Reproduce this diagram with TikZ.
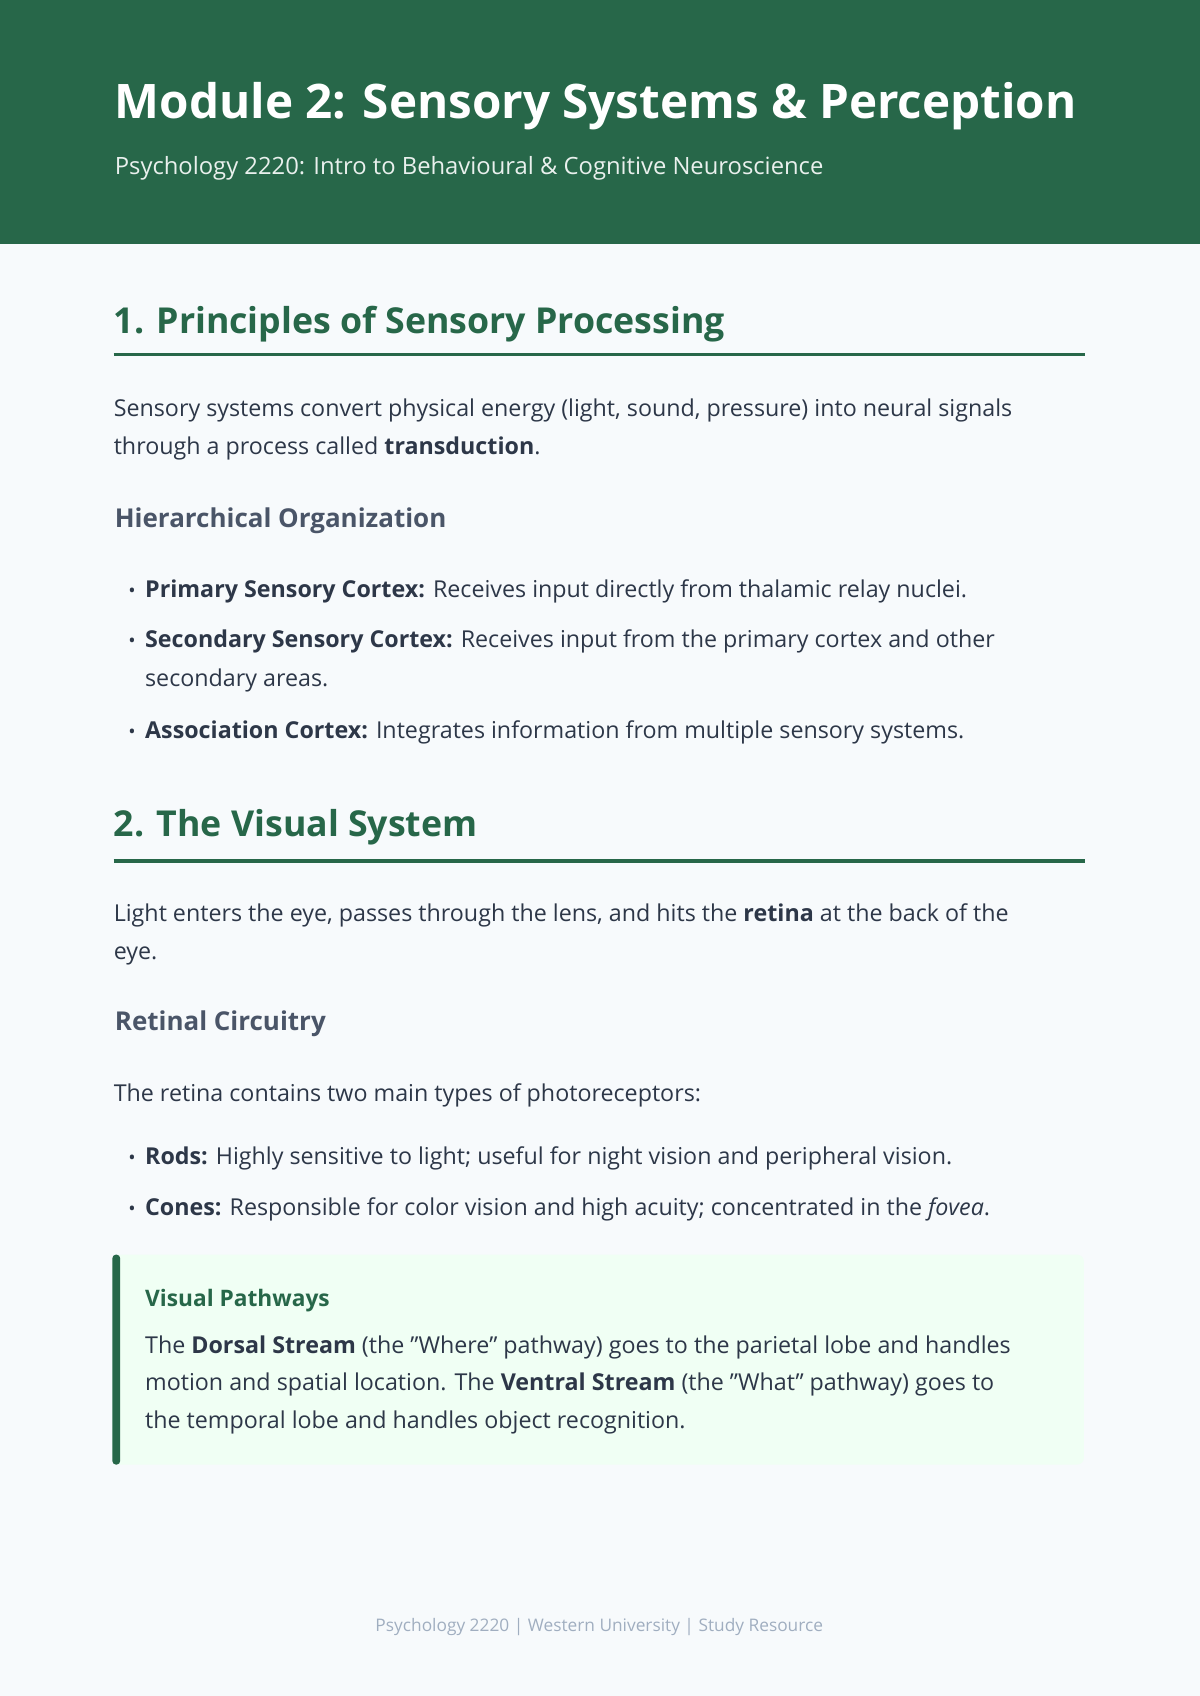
\documentclass[tikz,border=0pt]{standalone}
\usepackage{fontspec}
\setmainfont{Open Sans}
\definecolor{hdr}{HTML}{276749}
\definecolor{bg}{HTML}{F7FAFC}
\definecolor{txt}{HTML}{2D3748}
\definecolor{sub}{HTML}{4A5568}
\definecolor{foot}{HTML}{A0AEC0}
\definecolor{boxbg}{HTML}{F0FFF4}
\tikzset{
 body/.style={anchor=base west,inner sep=0pt,text=txt,font=\fontsize{21.5}{25}\selectfont},
 sech/.style={anchor=base west,inner sep=0pt,text=hdr,font=\fontsize{33}{40}\selectfont\bfseries},
 subh/.style={anchor=base west,inner sep=0pt,text=sub,font=\fontsize{24}{30}\selectfont\bfseries},
 bul/.style={anchor=base,inner sep=0pt,text=txt,font=\fontsize{18}{22}\selectfont},
 rulel/.style={draw=hdr,line width=3pt}
}
\begin{document}
\begin{tikzpicture}[x=1pt,y=-1pt]
\useasboundingbox (0,0) rectangle (1109,1568);
\fill[bg] (0,0) rectangle (1109,1568);
\fill[hdr] (0,0) rectangle (1109,226);
\node[anchor=base west,inner sep=0pt,text=white,font=\fontsize{44}{52}\selectfont\bfseries] (title) at (106,110) {Module 2: Sensory Systems \& Perception};
\node[anchor=base west,inner sep=0pt,text=white!90!hdr,font=\fontsize{22}{26}\selectfont] (subt) at (106,161) {Psychology 2220: Intro to Behavioural \& Cognitive Neuroscience};
% section 1
\node[sech] (s1) at (105,308) {1. Principles of Sensory Processing};
\draw[rulel] (105,328) coordinate (r1a) -- (1003,328) coordinate (r1b);
\node[body] (p1) at (105,385) {Sensory systems convert physical energy (light, sound, pressure) into neural signals};
\node[body] (p2) at (105,420) {through a process called \textbf{transduction}.};
\node[subh] (h1) at (106,488) {Hierarchical Organization};
\node[bul] (b1) at (122,552) {•};
\node[body] (t1) at (134,552) {\textbf{Primary Sensory Cortex:} Receives input directly from thalamic relay nuclei.};
\node[bul] (b2) at (122,599) {•};
\node[body] (t2) at (134,599) {\textbf{Secondary Sensory Cortex:} Receives input from the primary cortex and other};
\node[body] (t2b) at (134,635) {secondary areas.};
\node[bul] (b3) at (122,683) {•};
\node[body] (t3) at (134,683) {\textbf{Association Cortex:} Integrates information from multiple sensory systems.};
% section 2
\node[sech] (s2) at (105,773) {2. The Visual System};
\draw[rulel] (105,796) coordinate (r2a) -- (1003,796) coordinate (r2b);
\node[body] (q1) at (105,852) {Light enters the eye, passes through the lens, and hits the \textbf{retina} at the back of the};
\node[body] (q2) at (105,887) {eye.};
\node[subh] (h2) at (106,953) {Retinal Circuitry};
\node[body] (q3) at (105,1018) {The retina contains two main types of photoreceptors:};
\node[bul] (b4) at (122,1077) {•};
\node[body] (t4) at (134,1077) {\textbf{Rods:} Highly sensitive to light; useful for night vision and peripheral vision.};
\node[bul] (b5) at (122,1124) {•};
\node[body] (t5) at (134,1124) {\textbf{Cones:} Responsible for color vision and high acuity; concentrated in the \textit{fovea}.};
% callout
\fill[boxbg,rounded corners=6pt] (104,1160) rectangle (1002,1354);
\fill[hdr,rounded corners=3pt] (104,1160) rectangle (111,1354);
\node[anchor=base west,inner sep=0pt,text=hdr,font=\fontsize{21}{25}\selectfont\bfseries] (vp) at (134,1208) {Visual Pathways};
\node[body] (v1) at (134,1251) {The \textbf{Dorsal Stream} (the "Where" pathway) goes to the parietal lobe and handles};
\node[body] (v2) at (134,1286) {motion and spatial location. The \textbf{Ventral Stream} (the "What" pathway) goes to};
\node[body] (v3) at (134,1321) {the temporal lobe and handles object recognition.};
\node[anchor=base,inner sep=0pt,text=foot,font=\fontsize{16}{20}\selectfont] (ft) at (554,1508) {Psychology 2220 | Western University | Study Resource};
\end{tikzpicture}
\end{document}
